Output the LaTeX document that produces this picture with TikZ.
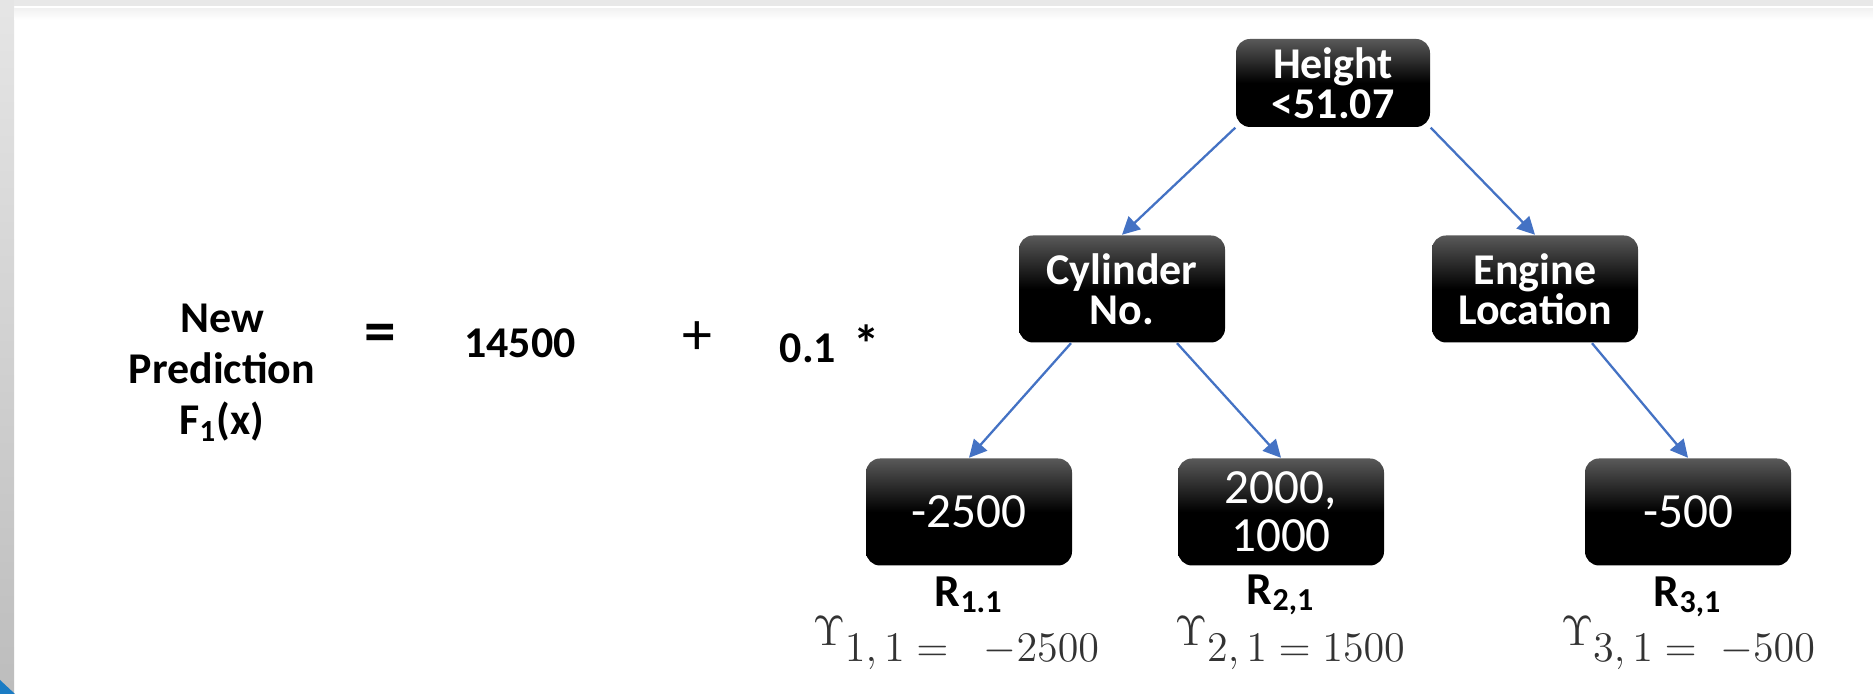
\documentclass[tikz,border=0pt]{standalone}
\usepackage[no-math]{fontspec}
\setmainfont{Carlito}
\usetikzlibrary{arrows.meta,positioning}
\definecolor{edgeblue}{HTML}{4472C4}
\definecolor{cornerblue}{HTML}{1B7CC4}

\begin{document}
\begin{tikzpicture}[>={Triangle[length=5pt,width=5pt]},
  tree node/.style={rectangle,rounded corners=0.14cm,top color=black!65,bottom color=black,middle color=black,text=white,align=center,inner sep=0pt,minimum width=2.06cm,minimum height=1.07cm},
  split node/.style={tree node,font=\fontsize{12.5}{11.5}\selectfont\bfseries},
  leaf node/.style={tree node,font=\fontsize{14}{13.7}\selectfont},
  region/.style={font=\fontsize{13}{13}\selectfont\bfseries,inner sep=0pt},
  gamma/.style={text=black!80,font=\fontsize{12}{12}\selectfont,inner sep=0pt},
  big/.style={font=\fontsize{12.5}{14.5}\selectfont\bfseries,align=center,inner sep=0pt},
  sign/.style={font=\fontsize{17}{17}\selectfont,inner sep=0pt},
  edge/.style={->,edgeblue,line width=0.65pt}]

  % slide frame
  \useasboundingbox (0,0) rectangle (18.73,6.94);
  \fill[white] (0,0) rectangle (18.73,6.94);
  \shade[top color=black!10,bottom color=black!26] (0,0) rectangle (0.14,6.94);
  \fill[black!9] (0.14,6.88) rectangle (18.73,6.94);
  \shade[top color=black!5,bottom color=white] (0.14,6.74) rectangle (18.73,6.85);
  \fill[cornerblue] (0,0.14) -- (0,0) -- (0.15,0) -- cycle;

  % update formula
  \node[big] (lhs) at (2.22,3.21) {New\\Prediction\\F\textsubscript{1}(x)};
  \node[sign,font=\fontsize{18}{18}\selectfont\bfseries] (eq) at (3.80,3.56) {=};
  \node[big] (base) at (5.20,3.51) {14500};
  \node[sign] (plus) at (6.97,3.56) {+};
  \node[big] (rate) at (8.30,3.50) {0.1\hspace{0.4em}{\fontsize{15}{15}\selectfont*}};

  % tree
  \node[split node,minimum width=1.94cm,minimum height=0.88cm] (height) at (13.33,6.11) {Height\\<51.07};
  \node[split node] (cyl) at (11.22,4.05) {Cylinder\\No.};
  \node[split node] (engine) at (15.35,4.05) {Engine\\Location};
  \node[leaf node] (r1) at (9.69,1.82) {-2500};
  \node[leaf node] (r2) at (12.81,1.82) {2000,\\1000};
  \node[leaf node] (r3) at (16.88,1.82) {-500};

  \draw[edge] (height.south west) -- (cyl.north);
  \draw[edge] (height.south east) -- (engine.north);
  \draw[edge] ([xshift=-0.51cm]cyl.south) -- (r1.north);
  \draw[edge] ([xshift=0.55cm]cyl.south) -- (r2.north);
  \draw[edge] ([xshift=0.57cm]engine.south) -- (r3.north);

  % leaf regions and their values
  \node[region,below=0.1cm of r1] (lab1) {R\textsubscript{1.1}};
  \node[region,below=0.08cm of r2] (lab2) {R\textsubscript{2,1}};
  \node[region,below=0.1cm of r3] (lab3) {R\textsubscript{3,1}};

  \node[gamma,anchor=base] (g1) at (9.56,0.32) {$\raisebox{.4em}{$\Upsilon$}1,1 = \;\; -2500$};
  \node[gamma,anchor=base] (g2) at (12.90,0.32) {$\raisebox{.4em}{$\Upsilon$}2,1 = 1500$};
  \node[gamma,anchor=base] (g3) at (16.88,0.32) {$\raisebox{.4em}{$\Upsilon$}3,1 = \; -500$};
\end{tikzpicture}
\end{document}
